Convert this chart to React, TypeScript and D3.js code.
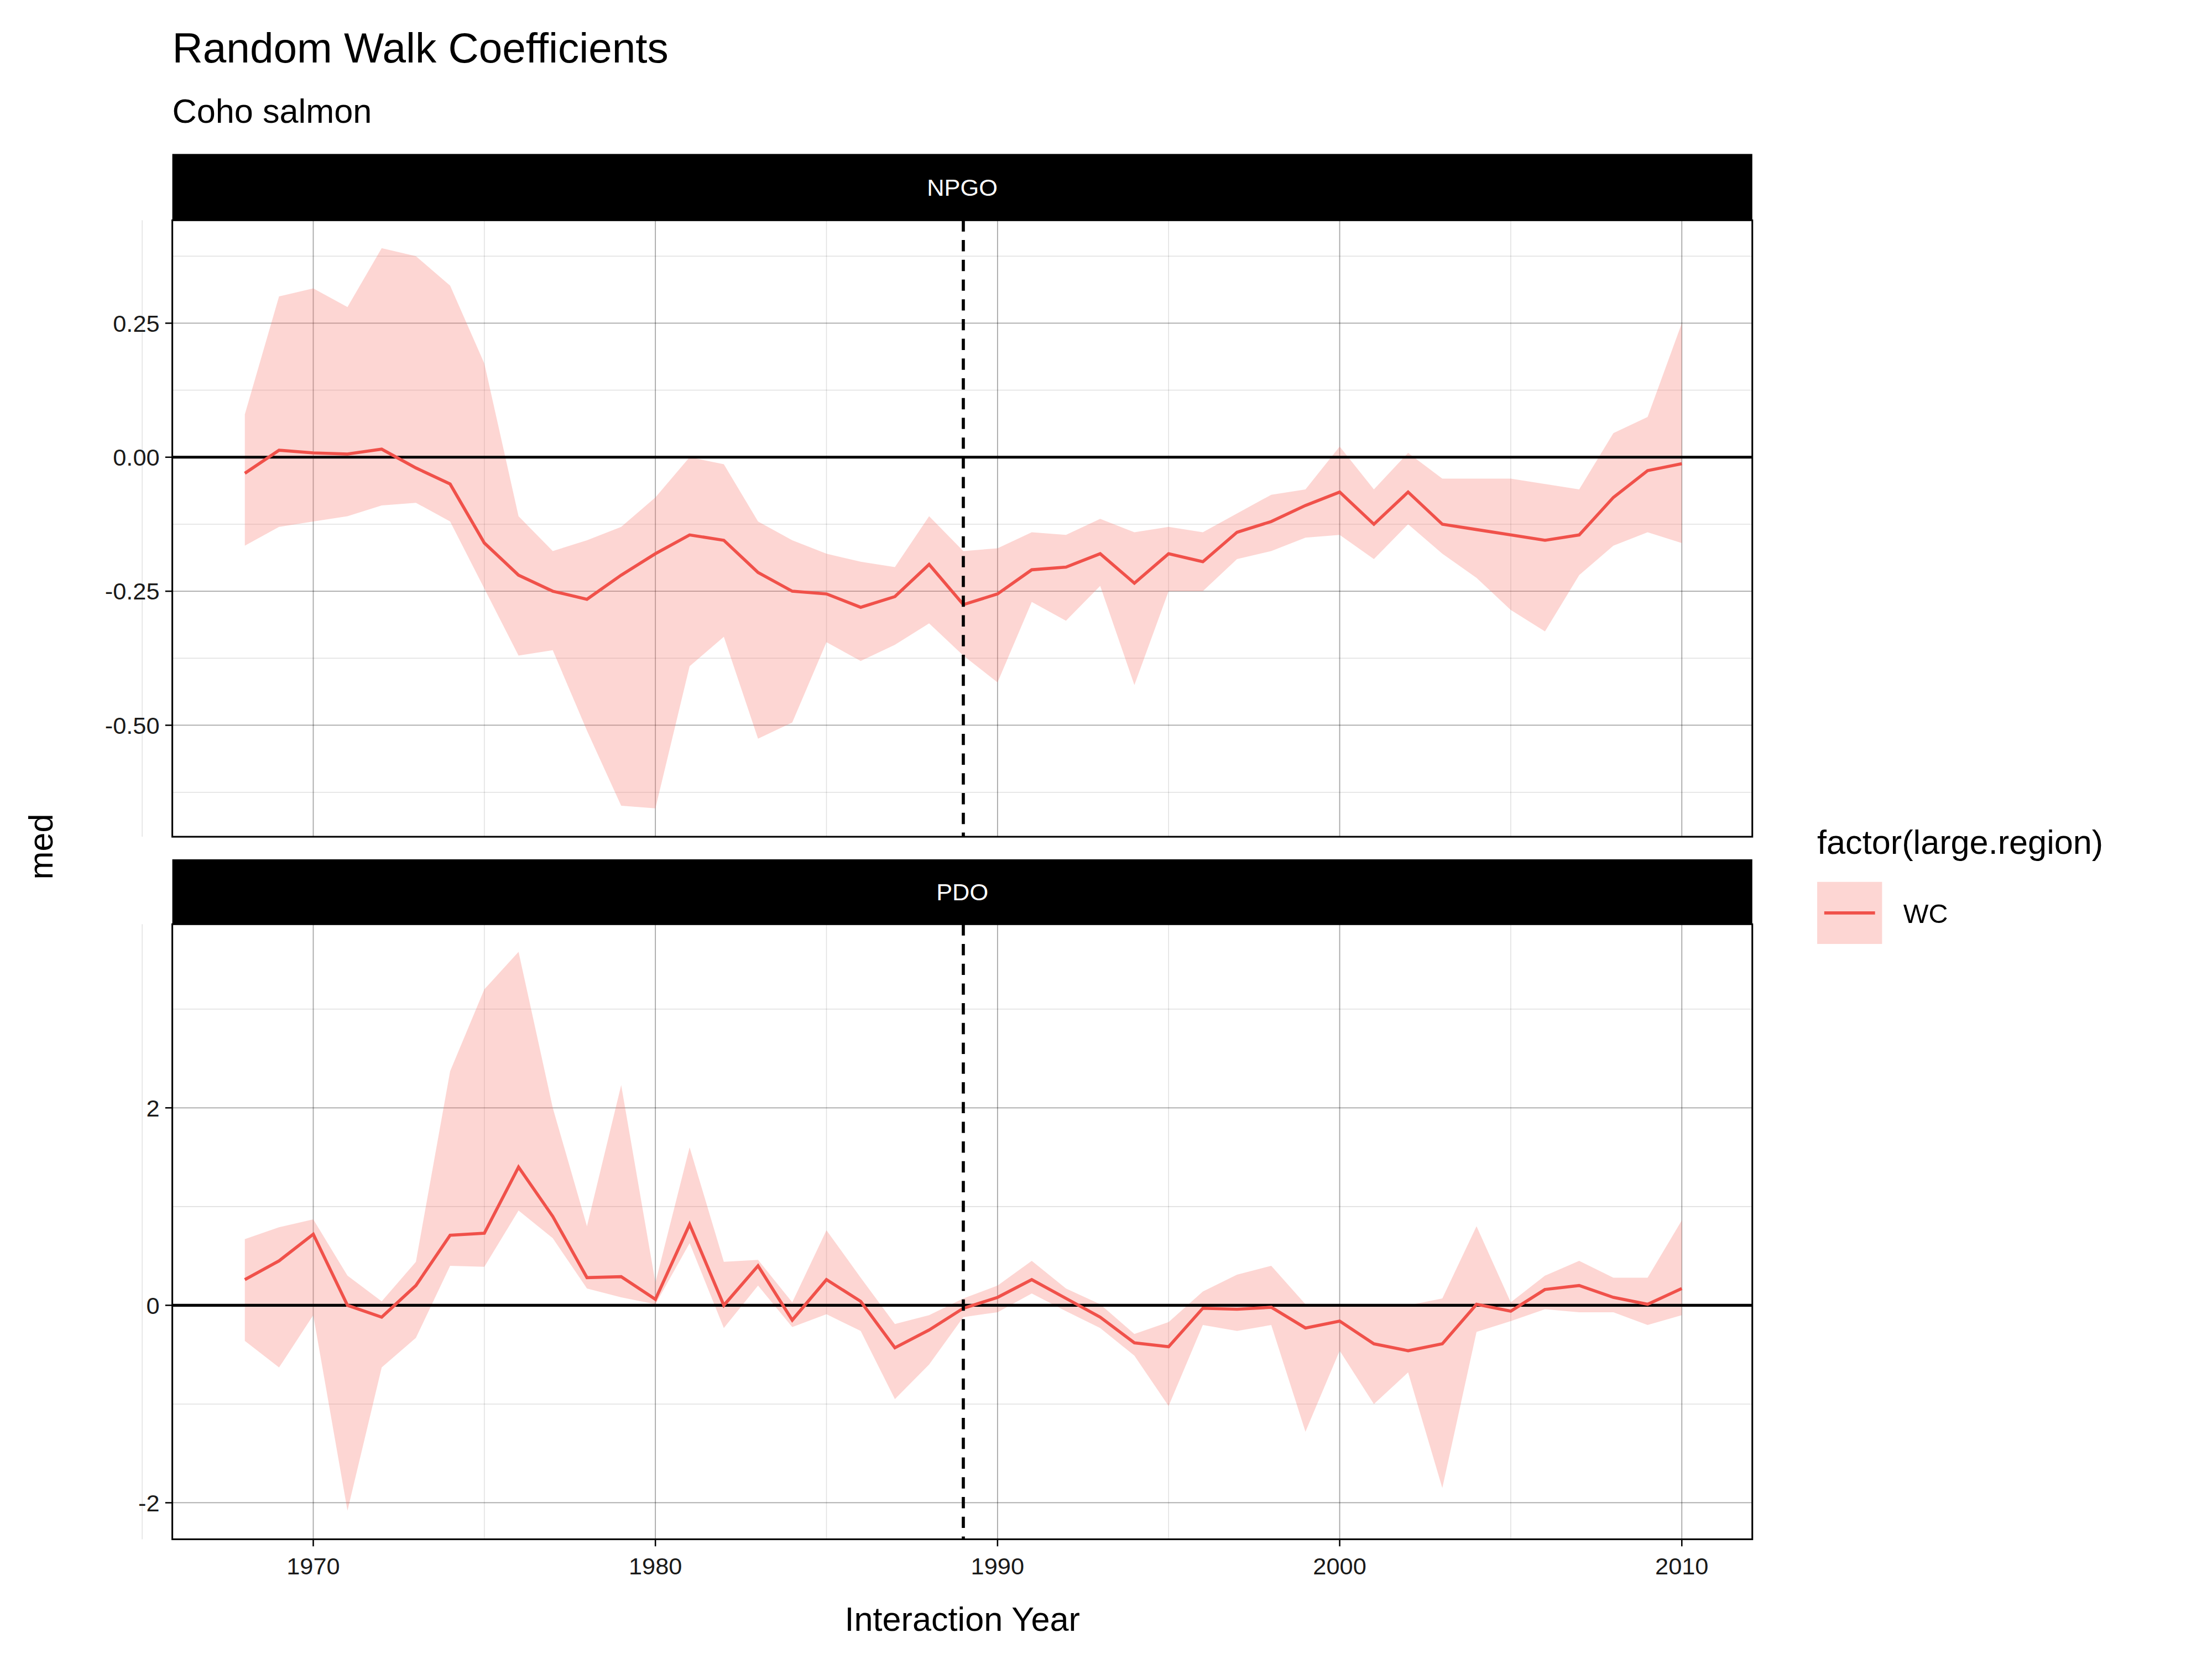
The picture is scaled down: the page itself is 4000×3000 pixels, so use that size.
import * as d3 from "d3";

const years = d3.range(1968, 2011);

const npgoMed = [-0.03, 0.013, 0.008, 0.006, 0.015, -0.02, -0.05, -0.16, -0.22, -0.25, -0.265, -0.22, -0.18, -0.145, -0.155, -0.215, -0.25, -0.255, -0.28, -0.26, -0.2, -0.275, -0.255, -0.21, -0.205, -0.18, -0.235, -0.18, -0.195, -0.14, -0.12, -0.09, -0.065, -0.125, -0.065, -0.125, -0.135, -0.145, -0.155, -0.145, -0.075, -0.025, -0.012];
const npgoHi = [0.08, 0.3, 0.315, 0.28, 0.39, 0.375, 0.32, 0.175, -0.11, -0.175, -0.155, -0.13, -0.075, 0.0, -0.013, -0.12, -0.155, -0.18, -0.195, -0.205, -0.11, -0.175, -0.17, -0.14, -0.145, -0.115, -0.14, -0.13, -0.14, -0.105, -0.07, -0.06, 0.02, -0.06, 0.008, -0.04, -0.04, -0.04, -0.05, -0.06, 0.045, 0.075, 0.25];
const npgoLo = [-0.165, -0.13, -0.12, -0.11, -0.09, -0.085, -0.12, -0.245, -0.37, -0.36, -0.51, -0.65, -0.655, -0.39, -0.335, -0.525, -0.495, -0.345, -0.38, -0.35, -0.31, -0.37, -0.42, -0.27, -0.305, -0.24, -0.425, -0.25, -0.25, -0.19, -0.175, -0.15, -0.145, -0.19, -0.125, -0.18, -0.225, -0.285, -0.325, -0.22, -0.165, -0.14, -0.16];

const pdoMed = [0.26, 0.45, 0.72, 0.0, -0.12, 0.2, 0.71, 0.73, 1.4, 0.9, 0.28, 0.29, 0.06, 0.82, 0.0, 0.4, -0.15, 0.26, 0.04, -0.43, -0.25, -0.03, 0.08, 0.26, 0.07, -0.12, -0.38, -0.42, -0.03, -0.04, -0.02, -0.23, -0.16, -0.39, -0.46, -0.39, 0.01, -0.06, 0.16, 0.2, 0.08, 0.01, 0.17];
const pdoHi = [0.67, 0.79, 0.87, 0.3, 0.04, 0.44, 2.37, 3.2, 3.58, 2.0, 0.8, 2.23, 0.23, 1.6, 0.44, 0.46, 0.03, 0.76, 0.28, -0.19, -0.1, 0.07, 0.2, 0.45, 0.17, 0.01, -0.29, -0.17, 0.14, 0.31, 0.4, 0.01, 0.01, 0.0, 0.0, 0.07, 0.8, 0.03, 0.3, 0.45, 0.28, 0.28, 0.86];
const pdoLo = [-0.36, -0.63, -0.1, -2.08, -0.63, -0.33, 0.4, 0.39, 0.96, 0.68, 0.17, 0.08, 0.01, 0.63, -0.23, 0.2, -0.22, -0.09, -0.26, -0.95, -0.6, -0.12, -0.07, 0.12, -0.06, -0.23, -0.51, -1.02, -0.2, -0.26, -0.2, -1.28, -0.46, -1.0, -0.68, -1.85, -0.27, -0.16, -0.04, -0.07, -0.07, -0.2, -0.1];

const xMajor = [1970, 1980, 1990, 2000, 2010];
const xMinor = [1965, 1975, 1985, 1995, 2005];

const panels = [
  { name: "NPGO", med: npgoMed, hi: npgoHi, lo: npgoLo, domain: [-0.708, 0.442], major: [-0.5, -0.25, 0, 0.25], minor: [-0.625, -0.375, -0.125, 0.125, 0.375], fmt: (d: number) => d.toFixed(2), top: 153, bottom: 590, strip: 106 },
  { name: "PDO", med: pdoMed, hi: pdoHi, lo: pdoLo, domain: [-2.37, 3.86], major: [-2, 0, 2], minor: [-1, 1, 3], fmt: (d: number) => String(d), top: 652, bottom: 1088, strip: 606 },
];

const FONT = "Liberation Sans, Arial, sans-serif";
const left = 119, right = 1239;
const dashYear = 1989;

export default function App() {
  const x = d3.scaleLinear().domain([1965.88, 2012.06]).range([left, right]);
  return (
    <svg width={4000} height={3000} viewBox="0 0 1568 1176" style={{ display: "block", background: "#fff" }} fontFamily={FONT}>
      <text x={119} y={41} fontSize={30}>Random Walk Coefficients</text>
      <text x={119} y={84} fontSize={24}>Coho salmon</text>
      {panels.map((p) => {
        const y = d3.scaleLinear().domain(p.domain).range([p.bottom, p.top]);
        const area = d3.area<number>().x((_, i) => x(years[i])).y0((_, i) => y(p.lo[i])).y1((_, i) => y(p.hi[i]));
        const line = d3.line<number>().x((_, i) => x(years[i])).y((d) => y(d));
        return (
          <g key={p.name}>
            <rect x={left} y={p.strip} width={right - left} height={p.top - p.strip} fill="#000" />
            <text x={(left + right) / 2} y={(p.strip + p.top) / 2 + 6} fontSize={17} fill="#fff" textAnchor="middle">{p.name}</text>
            {p.minor.map((v) => <line key={"ym" + v} x1={left} x2={right} y1={y(v)} y2={y(v)} stroke="#000" strokeOpacity={0.12} strokeWidth={0.6} />)}
            {xMinor.map((v) => <line key={"xm" + v} x1={x(v)} x2={x(v)} y1={p.top} y2={p.bottom} stroke="#000" strokeOpacity={0.12} strokeWidth={0.6} />)}
            {p.major.map((v) => <line key={"yM" + v} x1={left} x2={right} y1={y(v)} y2={y(v)} stroke="#000" strokeOpacity={0.35} strokeWidth={0.7} />)}
            {xMajor.map((v) => <line key={"xM" + v} x1={x(v)} x2={x(v)} y1={p.top} y2={p.bottom} stroke="#000" strokeOpacity={0.35} strokeWidth={0.7} />)}
            <path d={area(p.med) ?? ""} fill="#F8766D" fillOpacity={0.3} />
            <line x1={left} x2={right} y1={y(0)} y2={y(0)} stroke="#000" strokeWidth={2} />
            <path d={line(p.med) ?? ""} fill="none" stroke="#F8766D" strokeWidth={2.2} style={{ stroke: "#f0514a" }} />
            <line x1={x(dashYear)} x2={x(dashYear)} y1={p.top} y2={p.bottom} stroke="#000" strokeWidth={2.2} strokeDasharray="8,6" />
            <rect x={left} y={p.top} width={right - left} height={p.bottom - p.top} fill="none" stroke="#000" strokeWidth={1.2} />
            {p.major.map((v) => (
              <g key={"t" + v}>
                <line x1={left - 5} x2={left} y1={y(v)} y2={y(v)} stroke="#000" strokeWidth={1} />
                <text x={left - 9} y={y(v) + 6} fontSize={17} textAnchor="end" fill="#1a1a1a">{p.fmt(v)}</text>
              </g>
            ))}
          </g>
        );
      })}
      {xMajor.map((v) => (
        <g key={"xt" + v}>
          <line x1={x(v)} x2={x(v)} y1={1088} y2={1093} stroke="#000" strokeWidth={1} />
          <text x={x(v)} y={1113} fontSize={17} textAnchor="middle" fill="#1a1a1a">{v}</text>
        </g>
      ))}
      <text x={(left + right) / 2} y={1153} fontSize={24} textAnchor="middle">Interaction Year</text>
      <text transform={`translate(34, 597) rotate(-90)`} fontSize={24} textAnchor="middle">med</text>
      <text x={1285} y={602} fontSize={24}>factor(large.region)</text>
      <rect x={1285} y={622} width={46} height={44} fill="#F8766D" fillOpacity={0.3} />
      <line x1={1290} x2={1326} y1={644} y2={644} stroke="#f0514a" strokeWidth={2.2} />
      <text x={1346} y={651} fontSize={19}>WC</text>
    </svg>
  );
}
